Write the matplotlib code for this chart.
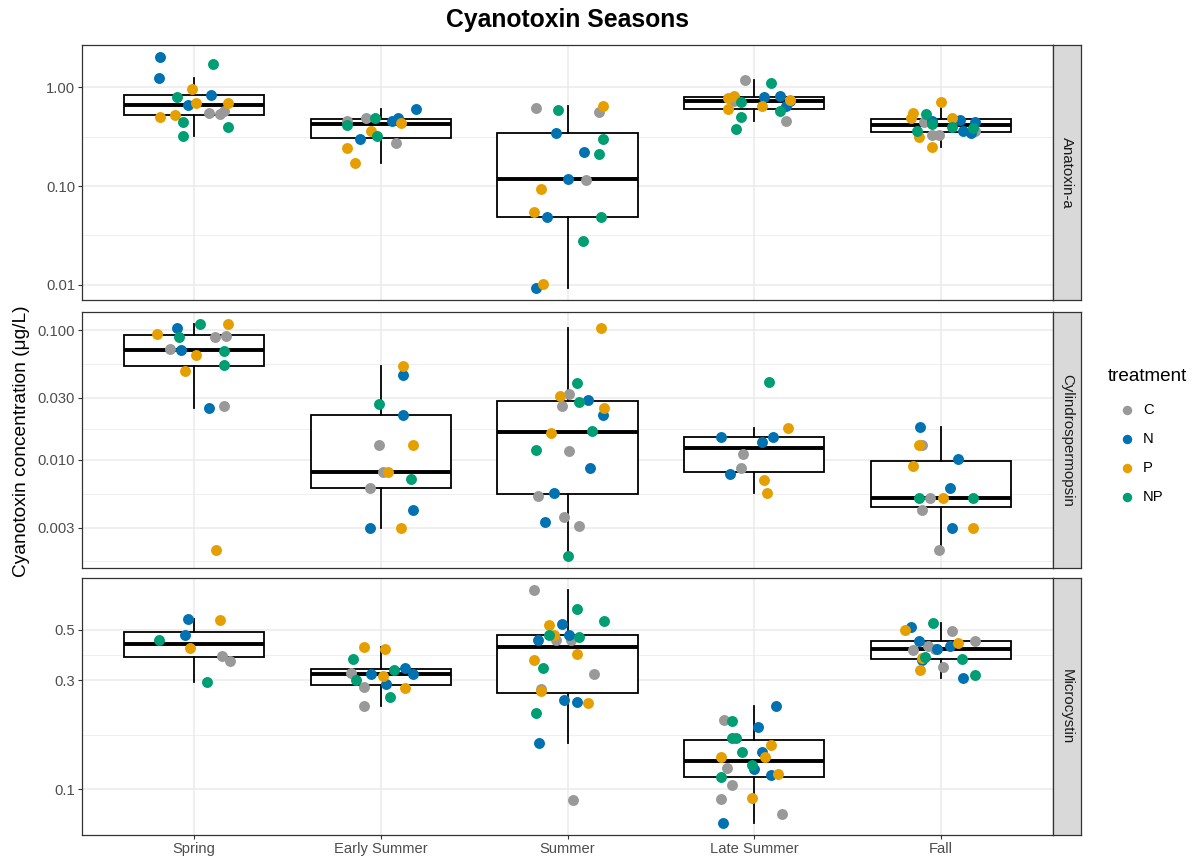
import numpy as np
import pandas as pd
import matplotlib
matplotlib.use("Agg")
import matplotlib.pyplot as plt
from matplotlib import cbook
from matplotlib.ticker import FixedLocator, FixedFormatter, NullFormatter
from matplotlib.lines import Line2D

plt.rcParams["font.family"] = ["Liberation Sans", "DejaVu Sans"]

seasons = ["Spring", "Early Summer", "Summer", "Late Summer", "Fall"]
treatments = ["C", "N", "P", "NP"]
trt_colors = ["#999999", "#0072B2", "#E69F00", "#009E73"]
toxins = ["Anatoxin-a", "Cylindrospermopsin", "Microcystin"]

# (treatment, jitter offset, concentration in ug/L)
ana_spring = [("C", .08, .55), ("C", .14, .54), ("C", .16, .57),
              ("N", -.18, 2.04), ("N", -.19, 1.24), ("N", .09, .83), ("N", -.03, .66),
              ("P", -.01, .95), ("P", .01, .69), ("P", .18, .69), ("P", -.18, .50), ("P", -.10, .52),
              ("NP", .10, 1.70), ("NP", -.09, .80), ("NP", -.06, .44), ("NP", .18, .40), ("NP", -.06, .32)]
ana_early = [("C", -.18, .45), ("C", -.08, .49), ("C", .08, .27),
             ("N", .06, .45), ("N", .09, .49), ("N", .19, .60), ("N", -.11, .30),
             ("P", .11, .43), ("P", -.05, .36), ("P", -.18, .24), ("P", -.14, .17),
             ("NP", -.03, .49), ("NP", -.18, .41), ("NP", -.02, .32)]
ana_summer = [("C", -.17, .61), ("C", .17, .56), ("C", .10, .116),
              ("N", -.06, .34), ("N", .0, .117), ("N", -.11, .049), ("N", -.17, .0092), ("N", .09, .22),
              ("P", -.14, .093), ("P", -.18, .055), ("P", -.13, .0103), ("P", .19, .65),
              ("NP", -.05, .59), ("NP", .085, .028), ("NP", .19, .30), ("NP", .17, .21), ("NP", .18, .049)]
ana_late = [("C", -.05, 1.19), ("C", .17, .45), ("C", -.11, .72),
            ("N", .05, .80), ("N", .14, .81), ("N", .17, .64), ("N", .19, .72),
            ("P", -.14, .77), ("P", -.11, .81), ("P", -.14, .60), ("P", .04, .65), ("P", .19, .75),
            ("NP", .09, 1.09), ("NP", -.07, .70), ("NP", .14, .57), ("NP", -.07, .50), ("NP", -.10, .38)]
ana_fall = [("C", -.09, .44), ("C", .18, .36), ("C", -.05, .33), ("C", -.01, .33),
            ("N", -.05, .46), ("N", .10, .47), ("N", .18, .44), ("N", .12, .36), ("N", .16, .34),
            ("P", .0, .70), ("P", -.15, .55), ("P", -.16, .49), ("P", .06, .49), ("P", -.12, .31), ("P", -.05, .25),
            ("NP", -.08, .53), ("NP", -.05, .42), ("NP", .06, .40), ("NP", .17, .39), ("NP", -.13, .36)]

cyl_spring = [("C", .11, .088), ("C", .17, .090), ("C", -.13, .071), ("C", .16, .026),
              ("N", -.09, .104), ("N", -.07, .070), ("N", .08, .025),
              ("P", -.20, .093), ("P", .18, .112), ("P", .01, .064), ("P", -.05, .048), ("P", .12, .0020),
              ("NP", .03, .112), ("NP", -.08, .088), ("NP", .16, .069), ("NP", .16, .054)]
cyl_early = [("C", -.01, .013), ("C", .01, .0080), ("C", -.06, .0061),
             ("N", .12, .045), ("N", .12, .022), ("N", .17, .0041), ("N", -.06, .0030),
             ("P", .12, .053), ("P", .17, .013), ("P", .04, .0080), ("P", .11, .0030),
             ("NP", -.01, .027), ("NP", .16, .0071)]
cyl_summer = [("C", .01, .032), ("C", -.03, .026), ("C", .01, .0117), ("C", -.16, .0053), ("C", -.02, .0036), ("C", .06, .0031),
              ("N", -.07, .0055), ("N", -.12, .0033), ("N", .11, .029), ("N", .19, .022), ("N", .12, .0086),
              ("P", -.04, .031), ("P", -.09, .016), ("P", .18, .104), ("P", .195, .025),
              ("NP", .05, .039), ("NP", .06, .028), ("NP", -.17, .0118), ("NP", .0, .0018), ("NP", .13, .0167)]
cyl_late = [("C", -.06, .0111), ("C", -.07, .0086),
            ("N", -.18, .0149), ("N", .04, .0138), ("N", .10, .0149), ("N", -.13, .0078),
            ("P", .18, .0177), ("P", .05, .0070), ("P", .07, .0055),
            ("NP", .08, .040)]
cyl_fall = [("C", -.10, .013), ("C", -.06, .0051), ("C", -.10, .0041), ("C", -.01, .0020),
            ("N", -.11, .018), ("N", .09, .0101), ("N", .05, .0061), ("N", .06, .0030),
            ("P", -.12, .013), ("P", -.15, .0090), ("P", .01, .0051), ("P", .17, .0030),
            ("NP", -.12, .0051), ("NP", .17, .0051)]

mic_spring = [("C", .15, .382), ("C", .19, .366), ("N", -.03, .557), ("N", -.05, .472),
              ("P", .14, .55), ("P", -.02, .416), ("NP", -.19, .449), ("NP", .07, .294)]
mic_early = [("C", -.16, .323), ("C", -.09, .281), ("C", -.09, .231),
             ("N", -.05, .321), ("N", .13, .338), ("N", .17, .321), ("N", .03, .29),
             ("P", -.09, .42), ("P", .02, .41), ("P", .01, .313), ("P", .13, .278),
             ("NP", -.15, .373), ("NP", .07, .332), ("NP", -.13, .30), ("NP", .05, .254)]
mic_summer = [("C", -.18, .748), ("C", -.06, .449), ("C", .02, .449), ("C", -.14, .275), ("C", .14, .321), ("C", .03, .090),
              ("N", -.03, .531), ("N", -.16, .452), ("N", .01, .474), ("N", -.02, .245), ("N", .05, .24), ("N", -.15, .159),
              ("P", -.10, .522), ("P", -.07, .472), ("P", .05, .392), ("P", -.18, .367), ("P", -.14, .27), ("P", .11, .238),
              ("NP", .05, .618), ("NP", -.10, .472), ("NP", .06, .466), ("NP", -.13, .34), ("NP", -.17, .216), ("NP", .195, .543)]
mic_late = [("C", -.16, .202), ("C", -.145, .124), ("C", -.12, .104), ("C", -.18, .091), ("C", .15, .078),
            ("N", .115, .231), ("N", .02, .188), ("N", .04, .145), ("N", .0, .123), ("N", .09, .116), ("N", -.165, .071),
            ("P", .09, .156), ("P", -.18, .138), ("P", .055, .138), ("P", .125, .117), ("P", -.01, .092),
            ("NP", -.12, .20), ("NP", -.12, .168), ("NP", -.10, .168), ("NP", -.065, .145), ("NP", -.01, .128), ("NP", -.18, .113)]
mic_fall = [("C", .06, .495), ("C", .18, .445), ("C", -.07, .424), ("C", -.03, .413), ("C", -.15, .409), ("C", .01, .343),
            ("N", -.16, .514), ("N", -.12, .445), ("N", .05, .426), ("N", -.02, .413), ("N", -.10, .367), ("N", .12, .307),
            ("P", -.19, .50), ("P", .09, .437), ("P", -.10, .376), ("P", -.11, .334),
            ("NP", -.04, .535), ("NP", -.085, .38), ("NP", .11, .372), ("NP", .18, .318)]

ana_ticks = [0.01, 0.1, 1.0]
ana_ticklabels = ["0.01", "0.10", "1.00"]
cyl_ticks = [0.003, 0.01, 0.03, 0.1]
cyl_ticklabels = ["0.003", "0.010", "0.030", "0.100"]
mic_ticks = [0.1, 0.3, 0.5]
mic_ticklabels = ["0.1", "0.3", "0.5"]

groups = {
    "Anatoxin-a": [ana_spring, ana_early, ana_summer, ana_late, ana_fall],
    "Cylindrospermopsin": [cyl_spring, cyl_early, cyl_summer, cyl_late, cyl_fall],
    "Microcystin": [mic_spring, mic_early, mic_summer, mic_late, mic_fall],
}
tick_info = {
    "Anatoxin-a": (ana_ticks, ana_ticklabels),
    "Cylindrospermopsin": (cyl_ticks, cyl_ticklabels),
    "Microcystin": (mic_ticks, mic_ticklabels),
}

rows = []
for tox in toxins:
    for si, grp in enumerate(groups[tox]):
        for trt, jit, val in grp:
            rows.append(dict(toxin=tox, season=si, treatment=trt, jitter=jit, conc=val))
df = pd.DataFrame(rows)

W, H = 1194, 860
fig = plt.figure(figsize=(W / 100, H / 100), dpi=100)

left, right = 82, 1053
strip_w = 28
panel_px = [(45, 300), (312, 568), (578, 835)]
grid_col = "#EBEBEB"
border_col = "#333333"

for i, tox in enumerate(toxins):
    top, bot = panel_px[i]
    ax = fig.add_axes([left / W, 1 - bot / H, (right - left) / W, (bot - top) / H])
    sub = df[df.toxin == tox]
    ax.set_yscale("log")

    # box statistics on the log scale, like ggplot with a log10 axis
    stats = []
    for si in range(len(seasons)):
        lv = np.log10(sub[sub.season == si].conc.values)
        st = cbook.boxplot_stats(lv, whis=1.5)[0]
        for k in ["med", "q1", "q3", "whislo", "whishi", "mean"]:
            st[k] = 10 ** st[k]
        st["fliers"] = []
        stats.append(st)
    ax.bxp(stats, positions=range(len(seasons)), widths=0.75, patch_artist=True,
           showfliers=False, showcaps=False,
           boxprops=dict(facecolor="white", edgecolor="black", linewidth=1.3),
           medianprops=dict(color="black", linewidth=2.8, solid_capstyle="butt"),
           whiskerprops=dict(color="black", linewidth=1.3))

    for trt, col in zip(treatments, trt_colors):
        d = sub[sub.treatment == trt]
        ax.scatter(d.season + d.jitter, d.conc, s=62, color=col, linewidths=0, zorder=3)

    lo, hi = np.log10(sub.conc.min()), np.log10(sub.conc.max())
    pad = 0.05 * (hi - lo)
    ax.set_ylim(10 ** (lo - pad), 10 ** (hi + pad))
    ax.set_xlim(-0.6, len(seasons) - 0.4)

    ticks, labels = tick_info[tox]
    b = np.log10(ticks)
    bd = b[1] - b[0]
    b = np.concatenate([[b[0] - bd], b, [b[-1] + bd]])
    minors = 10 ** ((b[:-1] + b[1:]) / 2)
    ax.yaxis.set_major_locator(FixedLocator(ticks))
    ax.yaxis.set_major_formatter(FixedFormatter(labels))
    ax.yaxis.set_minor_locator(FixedLocator(minors))
    ax.yaxis.set_minor_formatter(NullFormatter())
    ax.set_xticks(range(len(seasons)))
    ax.set_xticklabels(seasons)

    ax.set_axisbelow(True)
    ax.grid(which="major", color=grid_col, linewidth=1.1)
    ax.grid(which="minor", axis="y", color=grid_col, linewidth=0.55)
    ax.tick_params(which="minor", length=0)
    ax.tick_params(which="major", length=3, width=0.8, color=border_col,
                   labelsize=10.6, labelcolor="#4D4D4D", pad=2)
    if i < 2:
        ax.tick_params(axis="x", length=0, labelbottom=False)
    for sp in ax.spines.values():
        sp.set_color(border_col)
        sp.set_linewidth(0.9)

    sax = fig.add_axes([right / W, 1 - bot / H, strip_w / W, (bot - top) / H])
    sax.set_facecolor("#D9D9D9")
    sax.set_xticks([])
    sax.set_yticks([])
    for sp in sax.spines.values():
        sp.set_color(border_col)
        sp.set_linewidth(0.9)
    sax.text(0.5, 0.5, tox, rotation=-90, ha="center", va="center",
             fontsize=10.8, color="#1A1A1A", transform=sax.transAxes)

fig.text(567 / W, 1 - 20 / H, "Cyanotoxin Seasons", ha="center", va="center",
         fontsize=17.8, fontweight="bold")
fig.text(22 / W, 1 - 441 / H, "Cyanotoxin concentration (\u03bcg/L)", rotation=90,
         ha="center", va="center", fontsize=13.8)

# legend
fig.text(1108 / W, 1 - 377 / H, "treatment", ha="left", va="center", fontsize=13.6)
for k, (trt, col) in enumerate(zip(treatments, trt_colors)):
    yk = 1 - (410 + 29 * k) / H
    fig.add_artist(Line2D([1127 / W], [yk], marker="o", linestyle="", markersize=6.8,
                          color=col, markeredgewidth=0, transform=fig.transFigure))
    fig.text(1143 / W, yk, trt, ha="left", va="center", fontsize=10.6)

fig.savefig("out.png", dpi=100)
